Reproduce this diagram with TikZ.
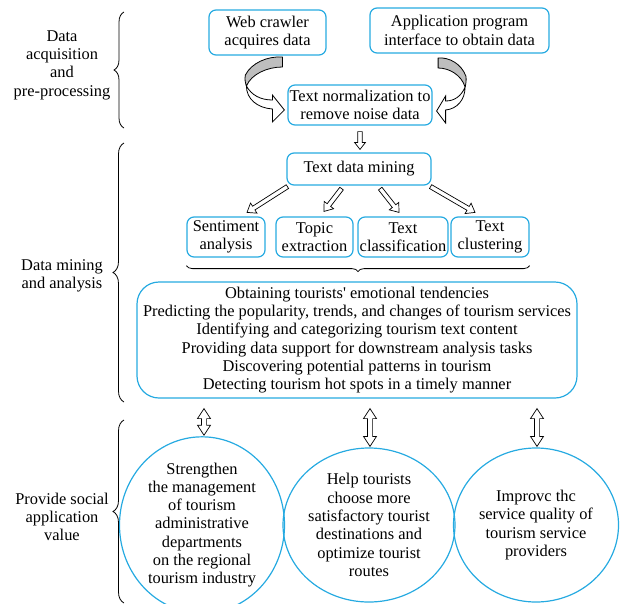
\documentclass[tikz,border=0pt]{standalone}
\usepackage{fontspec}
\setmainfont{Liberation Serif}
\usetikzlibrary{calc,decorations.pathreplacing,shapes.geometric}
\definecolor{boxblue}{RGB}{38,170,225}
\definecolor{arrgrey}{RGB}{190,190,190}
\newcommand{\hollowarrow}[5]{%
  \coordinate (hah) at ($(#2)!#5!(#1)$);
  \draw[hollow] ($(#1)!#3!90:(#2)$) -- ($(hah)!#3!-90:(#1)$) -- ($(hah)!#4!-90:(#1)$) -- (#2)
    -- ($(hah)!#4!90:(#1)$) -- ($(hah)!#3!90:(#1)$) -- ($(#1)!#3!-90:(#2)$) -- cycle;}
\newcommand{\hollowdarrow}[5]{%
  \coordinate (hda) at ($(#1)!#5!(#2)$);
  \coordinate (hdb) at ($(#2)!#5!(#1)$);
  \draw[hollow] (#1) -- ($(hda)!#4!90:(#2)$) -- ($(hda)!#3!90:(#2)$) -- ($(hdb)!#3!-90:(#1)$)
    -- ($(hdb)!#4!-90:(#1)$) -- (#2) -- ($(hdb)!#4!90:(#1)$) -- ($(hdb)!#3!90:(#1)$)
    -- ($(hda)!#3!-90:(#2)$) -- ($(hda)!#4!-90:(#2)$) -- cycle;}
\tikzset{
  txt/.style={font=\fontsize{16.4pt}{18.3pt}\selectfont, align=center, inner sep=0pt},
  box/.style={txt, draw=boxblue, line width=1.2pt, rounded corners=7pt},
  bigbox/.style={txt, draw=boxblue, line width=1.2pt, rounded corners=22pt},
  circ/.style={txt, draw=boxblue, line width=1.2pt, ellipse, minimum width=165pt, minimum height=154pt},
  hollow/.style={draw=black, fill=white, line width=0.7pt, line join=miter},
  bracedeco/.style={decorate, line width=0.8pt, decoration={brace, amplitude=#1}},
  curvedarrow/.pic={
    \filldraw[fill=arrgrey, line width=0.8pt, line join=round] (-2,-53)
      .. controls (-17,-54) and (-33,-47) .. (-39,-35)
      .. controls (-40,-31) and (-39,-27) .. (-38,-24)
      .. controls (-33,-36) and (-17,-43) .. (-2,-43) -- cycle;
    \filldraw[fill=white, line width=0.8pt, line join=miter] (-38,-24)
      .. controls (-33,-15) and (-24,-10) .. (-12,-10) -- (-12,-15) -- (0,0) -- (-12,12) -- (-12,-1)
      .. controls (-27,-2) and (-38,-11) .. (-38,-24) -- cycle;
  }
}
\begin{document}
\begin{tikzpicture}[x=1pt, y=-1pt]
\useasboundingbox (0,0) rectangle (621,603);
% stage 1
\node[box, minimum width=117pt, minimum height=45pt] (web) at (267.5,32.5) {Web crawler\\acquires data};
\node[box, minimum width=179pt, minimum height=45pt] (api) at (459.5,30.5) {Application program\\interface to obtain data};
\node[box, minimum width=144pt, minimum height=40pt] (norm) at (360,105) {Text normalization to\\remove noise data};
\coordinate (tipL) at ($(norm.west)+(-3,5)$);
\coordinate (tipR) at ($(norm.east)+(4,6)$);
\pic at (tipL) {curvedarrow};
\pic[xscale=-0.75] at (tipR) {curvedarrow};
% stage 2
\node[box, minimum width=144pt, minimum height=32pt] (mining) at (359,169) {Text data mining};
\coordinate (d1) at ($(norm.south)+(0,6)$);
\coordinate (d2) at ($(norm.south |- mining.north)+(0,-3)$);
\hollowarrow{d1}{d2}{2.3pt}{5.5pt}{7pt}
\node[box, minimum width=78pt, minimum height=40pt] (sent) at (226,237) {Sentiment\\analysis};
\node[box, minimum width=77pt, minimum height=40pt] (topic) at (314.5,237) {Topic\\extraction};
\node[box, minimum width=90pt, minimum height=40pt] (class) at (403,237) {Text\\classification};
\node[box, minimum width=78pt, minimum height=40pt] (clust) at (490,237) {Text\\clustering};
\coordinate (s1) at ($(mining.south west)+(1,1)$);
\coordinate (e1) at ($(sent.north)+(21,-4)$);
\coordinate (s2) at ($(mining.south west)!0.38!(mining.south east)+(0,3)$);
\coordinate (e2) at ($(topic.north)+(9.5,-5)$);
\coordinate (s3) at ($(mining.south west)!0.646!(mining.south east)+(0,3)$);
\coordinate (e3) at ($(class.north)+(-4,-4)$);
\coordinate (s4) at ($(mining.south east)+(-1,1)$);
\coordinate (e4) at ($(clust.north)+(-15,-4)$);
\hollowarrow{s1}{e1}{2.2pt}{6pt}{8pt}
\hollowarrow{s2}{e2}{2.2pt}{6pt}{8pt}
\hollowarrow{s3}{e3}{2.2pt}{6pt}{8pt}
\hollowarrow{s4}{e4}{2.2pt}{6pt}{8pt}
\draw[bracedeco=6pt] ($(clust.south east)+(0,8)$) -- ($(sent.south west)+(0,8)$);
\node[bigbox, minimum width=440pt, minimum height=116pt] (big) at (357,340) {Obtaining tourists\textquotesingle{} emotional tendencies\\Predicting the popularity, trends, and changes of tourism services\\Identifying and categorizing tourism text content\\Providing data support for downstream analysis tasks\\Discovering potential patterns in tourism\\Detecting tourism hot spots in a timely manner};
% stage 3
\node[circ] (c1) at (202,525) {Strengthen\\the management\\of tourism\\administrative\\departments\\on the regional\\tourism industry};
\node[circ] (c2) at (369,525) {Help tourists\\choose more\\satisfactory tourist\\destinations and\\optimize tourist\\routes};
\node[circ] (c3) at (536,525) {Improvc thc\\service quality of\\tourism service\\providers};
\foreach \c/\dx in {c1/2,c2/1,c3/1}{
  \coordinate (u\c) at ($(\c.north |- big.south)+(\dx,10)$);
  \coordinate (v\c) at ($(\c.north)+(\dx,-1)$);
  \hollowdarrow{u\c}{v\c}{2.6pt}{6.5pt}{10pt}
}
% labels and braces
\node[txt] (lab1) at (62,65) {Data\\acquisition\\and\\pre-processing};
\node[txt] (lab2) at (62,276) {Data mining\\and analysis};
\node[txt] (lab3) at (62,517) {Provide social\\application\\value};
\draw[bracedeco=10pt] (124,128) -- (124,12);
\draw[bracedeco=11pt] (124,402) -- (124,143);
\draw[bracedeco=11pt] (124,603) -- (124,420);
\end{tikzpicture}
\end{document}
